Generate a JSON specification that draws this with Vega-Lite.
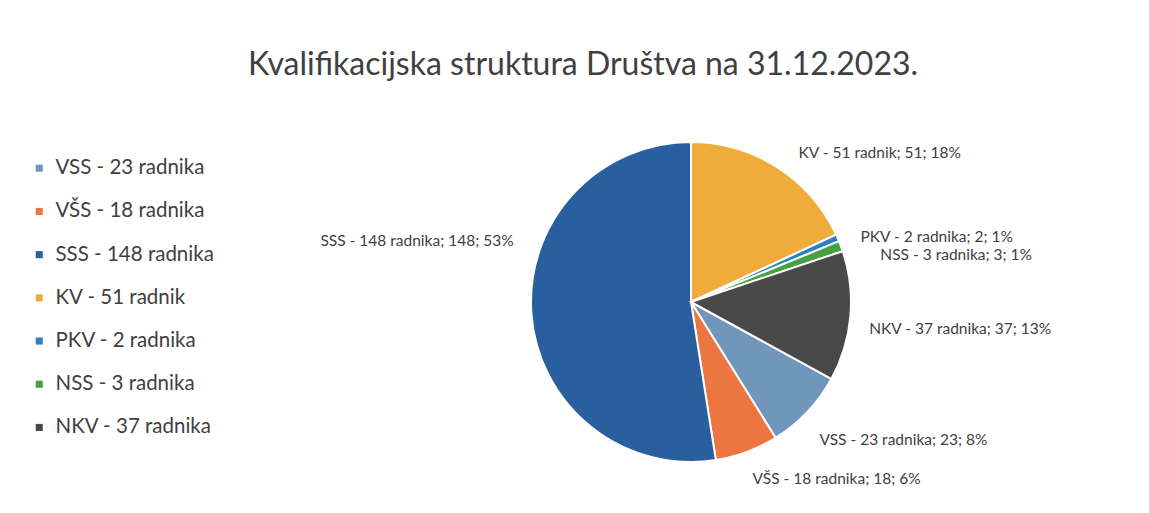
{
  "$schema": "https://vega.github.io/schema/vega-lite/v6.json",
  "autosize": {"type": "none"},
  "width": 916,
  "height": 404,
  "padding": {"left": 233, "top": 100, "right": 0, "bottom": 9},
  "background": "white",
  "title": {
    "text": "Kvalifikacijska struktura Društva na 31.12.2023.",
    "font": "Lato",
    "fontSize": 32,
    "fontWeight": "normal",
    "color": "#404040",
    "anchor": "middle",
    "dx": -108,
    "offset": -22
  },
  "config": {
    "view": {"stroke": null},
    "legend": {
      "symbolType": "square",
      "symbolSize": 50,
      "symbolStrokeWidth": 0,
      "labelFont": "Lato",
      "labelFontSize": 20.5,
      "labelColor": "#404040",
      "labelOffset": 6,
      "rowPadding": 22.2,
      "labelLimit": 300
    },
    "text": {"font": "Lato", "fontSize": 15.5, "baseline": "middle", "align": "left"}
  },
  "data": {
    "values": [
      {"idx": 1, "code": "VSS", "legend": "VSS - 23 radnika", "count": 23, "label": "VSS - 23 radnika; 23; 8%"},
      {"idx": 2, "code": "VŠS", "legend": "VŠS - 18 radnika", "count": 18, "label": "VŠS - 18 radnika; 18; 6%"},
      {"idx": 3, "code": "SSS", "legend": "SSS - 148 radnika", "count": 148, "label": "SSS - 148 radnika; 148; 53%"},
      {"idx": 4, "code": "KV", "legend": "KV - 51 radnik", "count": 51, "label": "KV - 51 radnik; 51; 18%"},
      {"idx": 5, "code": "PKV", "legend": "PKV - 2 radnika", "count": 2, "label": "PKV - 2 radnika; 2; 1%"},
      {"idx": 6, "code": "NSS", "legend": "NSS - 3 radnika", "count": 3, "label": "NSS - 3 radnika; 3; 1%"},
      {"idx": 7, "code": "NKV", "legend": "NKV - 37 radnika", "count": 37, "label": "NKV - 37 radnika; 37; 13%"}
    ]
  },
  "encoding": {
    "theta": {
      "field": "count",
      "type": "quantitative",
      "stack": true,
      "scale": {"range": [2.07211, 8.3553]}
    },
    "order": {"field": "idx", "type": "quantitative"},
    "color": {
      "field": "legend",
      "type": "nominal",
      "scale": {
        "domain": ["VSS - 23 radnika", "VŠS - 18 radnika", "SSS - 148 radnika", "KV - 51 radnik", "PKV - 2 radnika", "NSS - 3 radnika", "NKV - 37 radnika"],
        "range": ["#7096bb", "#ec7540", "#2a5f9f", "#f0ac3b", "#2d80c2", "#44a244", "#494949"]
      },
      "legend": {
        "title": null,
        "orient": "none",
        "legendX": -204,
        "legendY": 58
      }
    }
  },
  "layer": [
    {
      "mark": {"type": "arc", "radius": 160, "stroke": "white", "strokeWidth": 2}
    },
    {
      "mark": {"type": "text", "radius": 185, "dx": 8, "dy": 7},
      "encoding": {
        "color": {"value": "#404040"},
        "detail": {"field": "legend", "type": "nominal"},
        "text": {"condition": {"test": "datum.code == 'KV'", "field": "label"}, "value": ""}
      }
    },
    {
      "mark": {"type": "text", "radius": 185, "dy": 9},
      "encoding": {
        "color": {"value": "#404040"},
        "detail": {"field": "legend", "type": "nominal"},
        "text": {"condition": {"test": "datum.code == 'PKV'", "field": "label"}, "value": ""}
      }
    },
    {
      "mark": {"type": "text", "radius": 185, "dx": 16, "dy": 18},
      "encoding": {
        "color": {"value": "#404040"},
        "detail": {"field": "legend", "type": "nominal"},
        "text": {"condition": {"test": "datum.code == 'NSS'", "field": "label"}, "value": ""}
      }
    },
    {
      "mark": {"type": "text", "radius": 185, "dx": -6, "dy": 11},
      "encoding": {
        "color": {"value": "#404040"},
        "detail": {"field": "legend", "type": "nominal"},
        "text": {"condition": {"test": "datum.code == 'NKV'", "field": "label"}, "value": ""}
      }
    },
    {
      "mark": {"type": "text", "radius": 185, "dx": -6, "dy": 11},
      "encoding": {
        "color": {"value": "#404040"},
        "detail": {"field": "legend", "type": "nominal"},
        "text": {"condition": {"test": "datum.code == 'VSS'", "field": "label"}, "value": ""}
      }
    },
    {
      "mark": {"type": "text", "radius": 185, "dx": -3, "dy": 4},
      "encoding": {
        "color": {"value": "#404040"},
        "detail": {"field": "legend", "type": "nominal"},
        "text": {"condition": {"test": "datum.code == 'VŠS'", "field": "label"}, "value": ""}
      }
    },
    {
      "mark": {"type": "text", "radius": 189, "align": "right", "dx": 11, "dy": -76},
      "encoding": {
        "color": {"value": "#404040"},
        "detail": {"field": "legend", "type": "nominal"},
        "text": {"condition": {"test": "datum.code == 'SSS'", "field": "label"}, "value": ""}
      }
    }
  ]
}
